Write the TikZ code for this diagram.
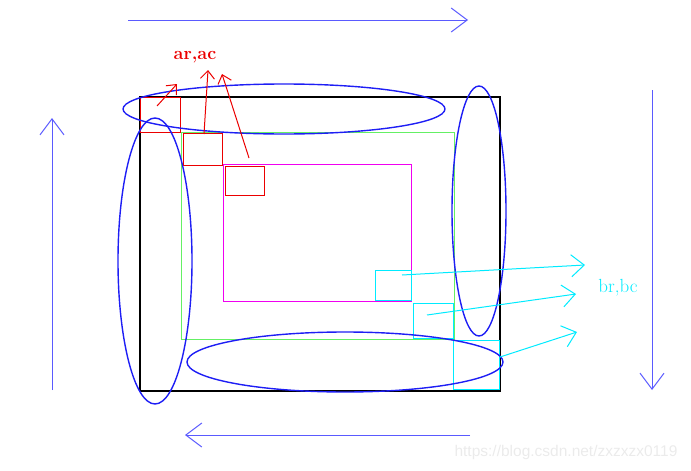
\documentclass[tikz,border=0pt]{standalone}
\usepackage{fontspec}
\usetikzlibrary{arrows,arrows.meta}
\definecolor{bl}{RGB}{30,30,245}
\definecolor{lbl}{RGB}{90,90,255}
\definecolor{cy}{RGB}{0,235,255}
\definecolor{gr}{RGB}{100,240,100}
\definecolor{mg}{RGB}{240,0,240}
\definecolor{rd}{RGB}{235,0,0}
\newfontfamily\wmfont{Liberation Sans}
\begin{document}
\begin{tikzpicture}[x=1pt,y=-1pt,line width=1pt]
\useasboundingbox (0,0) rectangle (691,471);

% rectangles
\draw[black,line width=1.2pt] (140,97) rectangle (500,391);
\draw[gr]     (181,132) rectangle (454,339);
\draw[mg]     (223,164) rectangle (411,301);
\draw[rd]     (140,97) rectangle (180,132);
\draw[rd]     (183,133) rectangle (222,165);
\draw[rd]     (225,166) rectangle (264,195);
\draw[cy]     (375,270) rectangle (411,300);
\draw[cy]     (413,303) rectangle (453,338);
\draw[cy]     (453,340) rectangle (499,389);

% ellipses
\draw[bl,line width=1.4pt] (284,109) ellipse (161 and 25);
\draw[bl,line width=1.4pt] (155,261) ellipse (37 and 143);
\draw[bl,line width=1.4pt] (479,211) ellipse (27 and 125);
\draw[bl,line width=1.4pt] (345,362) ellipse (158 and 30);

% outer arrows
\coordinate (t0) at (128,20);  \coordinate (t1) at (468,20);
\coordinate (r0) at (652,90);  \coordinate (r1) at (652,390);
\coordinate (b0) at (470,435); \coordinate (b1) at (185,435);
\coordinate (l0) at (52,390);  \coordinate (l1) at (52,118);
\foreach \a/\b in {t0/t1,r0/r1,b0/b1,l0/l1}
{
\draw[lbl,-{Straight Barb[length=16pt,width=24pt]}] (\a)--(\b);
}

% labels
\node[rd,font=\fontsize{18}{20}\selectfont\bfseries] (arac) at (195,57) {ar,ac};
\node[cy,font=\fontsize{19}{22}\selectfont] (brbc) at (618,288) {br,bc};
\node[black!8,font=\wmfont\fontsize{15.5}{18}\selectfont] (wm) at (566,452) {https://blog.csdn.net/zxzxzx0119};

% red arrows
\coordinate (a0) at (157,106); \coordinate (a1) at (177,84);
\coordinate (c0) at (204,134); \coordinate (c1) at (208,70);
\coordinate (d0) at (249,158); \coordinate (d1) at (222,74);
\foreach \a/\b in {a0/a1,c0/c1,d0/d1}
{
\draw[rd,-{Straight Barb[length=8pt,width=14pt]}] (\a)--(\b);
}

% cyan arrows
\coordinate (e0) at (402,275); \coordinate (e1) at (585,265);
\coordinate (f0) at (427,315); \coordinate (f1) at (576,294);
\coordinate (g0) at (500,357); \coordinate (g1) at (577,332);
\foreach \a/\b in {e0/e1,f0/f1,g0/g1}
{
\draw[cy,-{Straight Barb[length=13pt,width=22pt]}] (\a)--(\b);
}
\end{tikzpicture}
\end{document}
